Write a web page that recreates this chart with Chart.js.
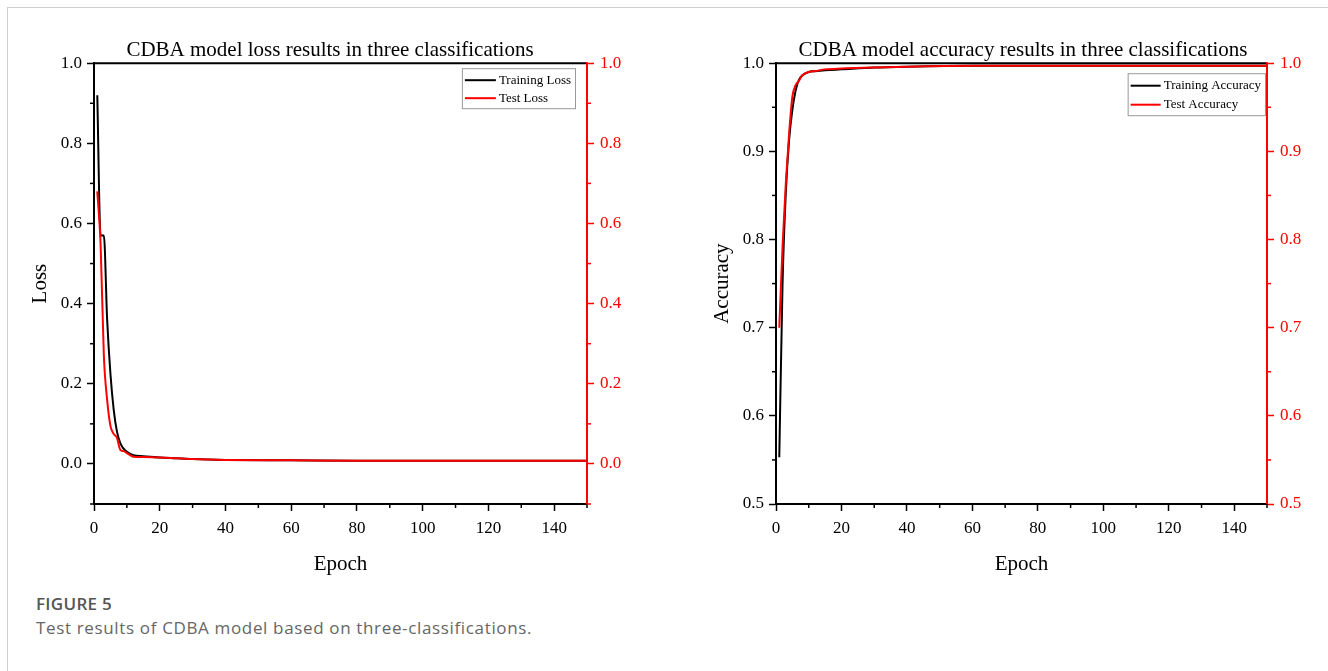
<!DOCTYPE html>
<html>
<head>
<meta charset="utf-8">
<script src="https://cdn.jsdelivr.net/npm/chart.js@4.4.1/dist/chart.umd.min.js"></script>
<style>
  html, body { margin: 0; padding: 0; background: #fff; overflow: hidden; }
  body { width: 1328px; height: 671px; position: relative; }
  .frame { position: absolute; left: 7px; top: 7px; width: 1400px; height: 700px;
           border-top: 1px solid #cfcfcf; border-left: 1px solid #cfcfcf; }
  #lossBox { position: absolute; left: 0; top: 0; width: 660px; height: 584px; }
  #accBox { position: absolute; left: 680px; top: 0; width: 686px; height: 584px; }
  .caption { position: absolute; left: 36px; top: 593px; font-family: "Open Sans", sans-serif; }
  .caption .fig { font-weight: 600; font-size: 17px; letter-spacing: 0.3px; color: #555; line-height: 22px; }
  .caption .txt { font-size: 17px; letter-spacing: 0.65px; color: #666; line-height: 22px; margin-top: 2px; }
</style>
</head>
<body>
<div class="frame"></div>
<div id="lossBox"><canvas id="lossChart" width="660" height="584"></canvas></div>
<div id="accBox"><canvas id="accChart" width="686" height="584"></canvas></div>
<div class="caption">
  <div class="fig">FIGURE 5</div>
  <div class="txt">Test results of CDBA model based on three-classifications.</div>
</div>
<script>
// Dados (época -> valor)
const lossEpochs = [1, 2, 3, 4, 5, 6, 7, 8, 9, 10, 12, 15, 20, 25, 30, 40, 60, 80, 100, 120, 150];
const trainLoss = [0.92, 0.57, 0.57, 0.36, 0.225, 0.135, 0.08, 0.052, 0.038, 0.03, 0.022, 0.019, 0.016, 0.014, 0.012, 0.010, 0.009, 0.008, 0.008, 0.008, 0.008];
const testLoss = [0.68, 0.55, 0.27, 0.16, 0.095, 0.075, 0.065, 0.035, 0.032, 0.027, 0.018, 0.017, 0.016, 0.014, 0.012, 0.010, 0.009, 0.008, 0.008, 0.008, 0.008];

const accEpochs = [1, 2, 3, 4, 5, 6, 7, 8, 10, 12, 15, 20, 30, 40, 60, 80, 100, 120, 150];
const trainAcc = [0.553, 0.75, 0.853, 0.913, 0.947, 0.969, 0.981, 0.986, 0.990, 0.991, 0.992, 0.993, 0.995, 0.996, 0.997, 0.997, 0.997, 0.997, 0.997];
const testAcc = [0.70, 0.792, 0.864, 0.92, 0.962, 0.975, 0.98, 0.986, 0.990, 0.991, 0.993, 0.994, 0.995, 0.996, 0.997, 0.997, 0.997, 0.997, 0.997];

const lossTicks = { min: -0.1, max: 1.0, step: 0.2, minor: 0.1 };
const accTicks = { min: 0.5, max: 1.0, step: 0.1, minor: 0.05 };
const epochTicks = { min: 0, max: 150, step: 20, minor: 10 };

const SERIF = '"Liberation Serif", "Times New Roman", serif';
const RED = '#ff0000';

const toPoints = (xs, ys) => xs.map((x, i) => ({ x: x, y: ys[i] }));

// Ticks menores (curtos) entre os principais
const minorTicks = {
  id: 'minorTicks',
  afterDraw(chart, args, opts) {
    const ctx = chart.ctx;
    Object.keys(opts.steps || {}).forEach(id => {
      const scale = chart.scales[id];
      const step = opts.steps[id];
      const majors = scale.ticks.map(t => t.value);
      const color = scale.options.border.color;
      const k0 = Math.ceil(scale.min / step - 1e-6);
      const k1 = Math.floor(scale.max / step + 1e-6);
      ctx.save();
      ctx.strokeStyle = color;
      ctx.lineWidth = 1.5;
      for (let k = k0; k <= k1; k++) {
        const v = k * step;
        if (majors.some(m => Math.abs(m - v) < step / 10)) continue;
        const p = scale.getPixelForValue(v);
        ctx.beginPath();
        if (scale.position === 'left') {
          ctx.moveTo(scale.right, p); ctx.lineTo(scale.right - 4, p);
        } else if (scale.position === 'right') {
          ctx.moveTo(scale.left, p); ctx.lineTo(scale.left + 4, p);
        } else {
          ctx.moveTo(p, scale.top); ctx.lineTo(p, scale.top + 4);
        }
        ctx.stroke();
      }
      ctx.restore();
    });
  }
};

// Linha superior do quadro
const topBorder = {
  id: 'topBorder',
  afterDraw(chart) {
    const a = chart.chartArea;
    const ctx = chart.ctx;
    ctx.save();
    ctx.strokeStyle = '#000';
    ctx.lineWidth = 2;
    ctx.beginPath();
    ctx.moveTo(a.left - 1, a.top);
    ctx.lineTo(a.right - 1, a.top);
    ctx.stroke();
    ctx.restore();
  }
};

// Legenda com moldura dentro da área do gráfico
const boxLegend = {
  id: 'boxLegend',
  afterDraw(chart, args, opts) {
    const ctx = chart.ctx;
    const a = chart.chartArea;
    const sets = chart.data.datasets;
    ctx.save();
    ctx.font = '13px ' + SERIF;
    const textW = Math.max(...sets.map(d => ctx.measureText(d.label).width));
    const lineLen = opts.lineLen;
    const w = 3 + lineLen + 3 + textW + 4;
    const h = 4 + sets.length * opts.rowH;
    const x = a.right - opts.right - w;
    const y = a.top + opts.top;
    ctx.fillStyle = '#fff';
    ctx.fillRect(x, y, w, h);
    ctx.strokeStyle = '#999';
    ctx.lineWidth = 1;
    ctx.strokeRect(x + 0.5, y + 0.5, w, h);
    sets.forEach((d, i) => {
      const cy = y + 2 + opts.rowH / 2 + i * opts.rowH + 1;
      ctx.strokeStyle = d.borderColor;
      ctx.lineWidth = 2;
      ctx.beginPath();
      ctx.moveTo(x + 3, cy);
      ctx.lineTo(x + 3 + lineLen, cy);
      ctx.stroke();
      ctx.fillStyle = '#000';
      ctx.textBaseline = 'middle';
      ctx.fillText(d.label, x + 6 + lineLen, cy);
    });
    ctx.restore();
  }
};

const xScale = () => ({
  type: 'linear',
  min: epochTicks.min,
  max: epochTicks.max,
  ticks: {
    stepSize: epochTicks.step, includeBounds: false, maxRotation: 0, autoSkip: false,
    color: '#000', padding: 7, font: { family: SERIF, size: 17 }
  },
  grid: { drawOnChartArea: false, drawTicks: true, tickLength: 7, tickColor: '#000', tickWidth: 1.5 },
  border: { display: true, color: '#000', width: 2 },
  title: { display: true, text: 'Epoch', color: '#000', font: { family: SERIF, size: 21 }, padding: { top: 0, bottom: 7 } },
  afterFit: s => { s.height = 80; }
});

const yScale = (pos, color, t, width, titleText, titlePad) => ({
  type: 'linear',
  position: pos,
  min: t.min,
  max: t.max,
  ticks: {
    stepSize: t.step, includeBounds: false, color: color, padding: pos === 'left' ? 5 : 6,
    font: { family: SERIF, size: 17 }, callback: v => v.toFixed(1)
  },
  grid: { drawOnChartArea: false, drawTicks: true, tickLength: 7, tickColor: color, tickWidth: 1.5 },
  border: { display: true, color: color, width: 2 },
  title: {
    display: !!titleText, text: titleText || '', color: '#000',
    font: { family: SERIF, size: 21 }, padding: { top: titlePad, bottom: 0 }
  },
  afterFit: s => { s.width = width; }
});

const makeChart = (canvasId, title, xs, train, test, labels, t, widths, yTitle, titlePad, legendPos) => {
  const ctx = document.getElementById(canvasId).getContext('2d');
  return new Chart(ctx, {
    type: 'line',
    data: {
      datasets: [
        { label: labels[0], data: toPoints(xs, train), borderColor: '#000', borderWidth: 2, order: 1 },
        { label: labels[1], data: toPoints(xs, test), borderColor: RED, borderWidth: 2, order: 0 }
      ]
    },
    options: {
      responsive: false,
      animation: false,
      layout: { padding: 0 },
      elements: {
        point: { radius: 0, hoverRadius: 0 },
        line: { cubicInterpolationMode: 'monotone', fill: false }
      },
      scales: {
        x: xScale(),
        y: yScale('left', '#000', t, widths[0], yTitle, titlePad),
        y2: yScale('right', RED, t, widths[1], null, 0)
      },
      plugins: {
        legend: { display: false },
        tooltip: { enabled: false },
        title: {
          display: true, text: title, color: '#000',
          font: { family: SERIF, size: 21, weight: 'normal' },
          padding: { top: 38, bottom: 0 }
        },
        minorTicks: { steps: { x: epochTicks.minor, y: t.minor, y2: t.minor } },
        boxLegend: legendPos
      }
    },
    plugins: [minorTicks, topBorder, boxLegend]
  });
};

makeChart('lossChart', 'CDBA model loss results in three classifications',
  lossEpochs, trainLoss, testLoss, ['Training Loss', 'Test Loss'],
  lossTicks, [94, 73], 'Loss', 28, { right: 12, top: 5, lineLen: 31, rowH: 18 });

makeChart('accChart', 'CDBA model accuracy results in three classifications',
  accEpochs, trainAcc, testAcc, ['Training Accuracy', 'Test Accuracy'],
  accTicks, [96, 99], 'Accuracy', 30, { right: 2, top: 10, lineLen: 30, rowH: 19 });
</script>
</body>
</html>
